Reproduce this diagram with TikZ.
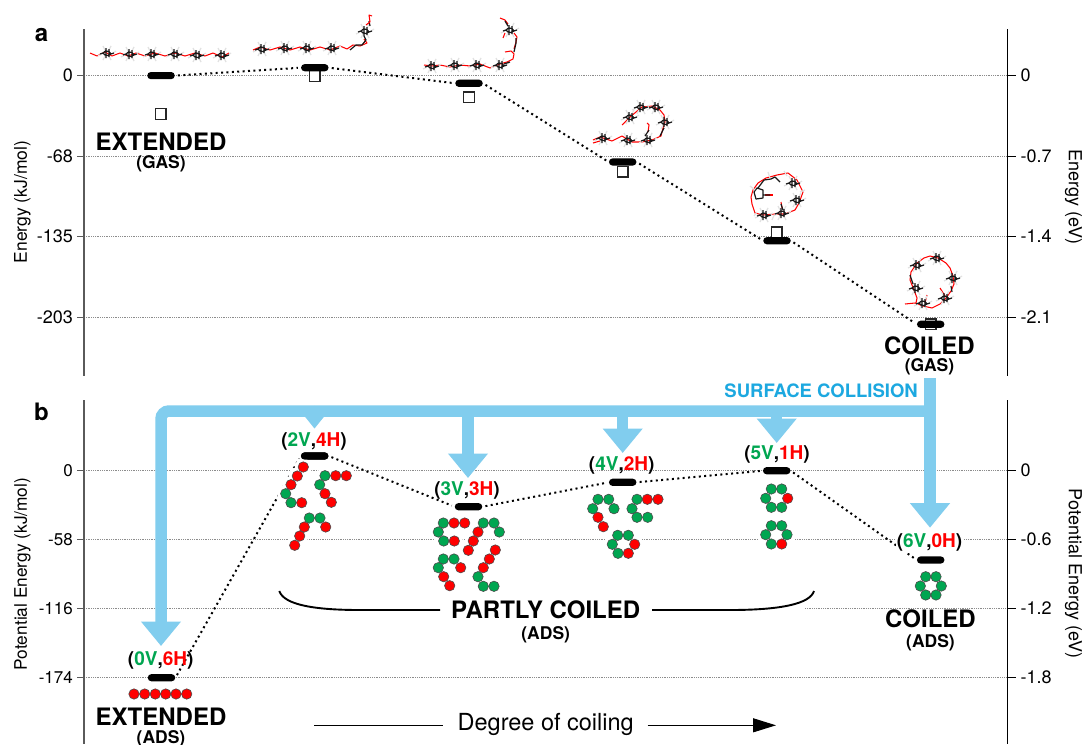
\documentclass[tikz,border=0pt]{standalone}
\usepackage{fontspec}
\setmainfont{TeX Gyre Heros}
\usetikzlibrary{shapes.misc,arrows.meta}
\definecolor{bandblue}{HTML}{81CDEE}
\definecolor{sctext}{HTML}{1CA8E0}
\definecolor{vgreen}{HTML}{00A651}
\definecolor{hred}{HTML}{FF0000}
\definecolor{axisgray}{HTML}{5A5A5A}
\definecolor{gridgray}{HTML}{8C8C8C}
\definecolor{hgray}{HTML}{E2E2E2}
\newcommand{\gv}[1]{\textcolor{vgreen}{#1}}
\newcommand{\rd}[1]{\textcolor{hred}{#1}}
\tikzset{
  gridline/.style={gridgray,line width=.6pt,dash pattern=on .8pt off 1pt},
  axisL/.style={axisgray,line width=1.4pt},
  axisR/.style={black,line width=1pt},
  tickL/.style={axisgray,line width=.9pt},
  tickR/.style={black,line width=.9pt},
  ticklabL/.style={anchor=east,inner sep=0pt,font=\fontsize{18}{20}\selectfont},
  ticklabLb/.style={anchor=east,inner sep=0pt,font=\fontsize{17}{19}\selectfont},
  ticklabR/.style={anchor=west,inner sep=0pt,font=\fontsize{18}{20}\selectfont},
  axtitle/.style={inner sep=0pt,font=\fontsize{17.5}{19}\selectfont},
  axtitleb/.style={inner sep=0pt,font=\fontsize{17.3}{19}\selectfont},
  axtitler/.style={inner sep=0pt,font=\fontsize{18}{20}\selectfont},
  level/.style={rounded rectangle,fill=black,inner sep=0pt,minimum width=27.5pt,minimum height=7.2pt},
  dots/.style={black,line width=2pt,dash pattern=on 2pt off 3.4pt,shorten <=3pt,shorten >=3pt},
  sq/.style={draw=black!85,line width=1.3pt,fill=white,minimum size=10.5pt,inner sep=0pt},
  bigtxt/.style={inner sep=0pt,font=\bfseries\fontsize{24}{26}\selectfont},
  subtxt/.style={inner sep=0pt,font=\bfseries\fontsize{17.5}{19}\selectfont},
  lvltxt/.style={inner sep=0pt,font=\bfseries\fontsize{19}{21}\selectfont},
  bandtip/.style={bandblue,line width=11.5pt,-{Triangle[length=24.5pt,width=38.5pt]}},
  bandtipshort/.style={bandblue,line width=1pt,-{Triangle[length=22.5pt,width=36pt]}},
  backbone/.style={hred,line width=1.05pt,line join=round},
  carbon/.style={black!90,line width=1.2pt,line join=round},
  hydro/.style={hgray,line width=1.2pt},
  beadR/.style={fill=hred,draw=black!70,line width=.6pt},
  beadG/.style={fill=vgreen,draw=black!70,line width=.6pt},
}
\newcommand{\rng}[2]{%
  \begin{scope}[shift={(#1,#2)}]
    \draw[hydro] (-4,-7)--(-2,-3) (4,-7)--(2,-3) (-4,7)--(-2,3) (4,7)--(2,3) (-9,3)--(-5,1) (9,-2)--(6,0);
    \draw[carbon] (-4,0)--(-1.5,-2)--(2,-1.5)--(4,1)--(1,2.5)--(-2,2)--cycle (-1,-5)--(-1,5) (2,-4)--(2,4) (-7,1)--(-4,0) (4,1)--(7,0);
  \end{scope}}
\newcommand{\hl}[2]{\fill[white] (#1,#2) circle (8.6);}
\newcommand{\br}[2]{\draw[beadR] (#1,#2) circle (5.2);}
\newcommand{\bg}[2]{\draw[beadG] (#1,#2) circle (5.2);}
\begin{document}
\begin{tikzpicture}[x=1pt,y=-1pt]
\useasboundingbox (0,0) rectangle (1083,744);
\fill[white] (0,0) rectangle (1083,744);
% grid lines
\foreach \yy in {75.6,156,236.6,317.2,470.5,539.5,677.5}{\draw[gridline] (84,\yy)--(1007.5,\yy);}
\draw[gridline] (84,608.5)--(292,608.5);
\draw[gridline] (805,608.5)--(1007.5,608.5);
% axes
\draw[axisL] (84,29)--(84,375.5);
\draw[axisL] (84,400)--(84,744);
\draw[axisR] (1007.5,29)--(1007.5,375.5);
\draw[axisR] (1007.5,400)--(1007.5,744);
\foreach \yy in {75.6,156,236.6,317.2,470.5,539.5,608.5,677.5}{
  \draw[tickL] (77,\yy)--(84,\yy);
  \draw[tickR] (1007.5,\yy)--(1016,\yy);}
\node[ticklabL] (la0) at (73,75.6) {0};
\node[ticklabL] (la1) at (73,156) {-68};
\node[ticklabL] (la2) at (73,236.6) {-135};
\node[ticklabL] (la3) at (73,317.2) {-203};
\node[ticklabR] (ra0) at (1020.5,75.6) {0};
\node[ticklabR] (ra1) at (1020.5,156) {-0.7};
\node[ticklabR] (ra2) at (1020.5,236.6) {-1.4};
\node[ticklabR] (ra3) at (1020.5,317.2) {-2.1};
\node[ticklabLb] (lb0) at (73,470.5) {0};
\node[ticklabLb] (lb1) at (73,539.5) {-58};
\node[ticklabLb] (lb2) at (73,608.5) {-116};
\node[ticklabLb] (lb3) at (73,677.5) {-174};
\node[ticklabR] (rb0) at (1020.5,470.5) {0};
\node[ticklabR] (rb1) at (1020.5,539.5) {-0.6};
\node[ticklabR] (rb2) at (1020.5,608.5) {-1.2};
\node[ticklabR] (rb3) at (1020.5,677.5) {-1.8};
\node[axtitle,rotate=90] (tla) at (22.5,202) {Energy (kJ/mol)};
\node[axtitler,rotate=-90] (tra) at (1073.5,197) {Energy (eV)};
\node[axtitleb,rotate=90] (tlb) at (22.5,574) {Potential Energy (kJ/mol)};
\node[axtitler,rotate=-90] (trb) at (1073.5,573.5) {Potential Energy (eV)};
\node[inner sep=0pt,font=\bfseries\fontsize{24}{26}\selectfont] (pa) at (41.5,35) {a};
\node[inner sep=0pt,font=\bfseries\fontsize{24}{26}\selectfont] (pb) at (41.5,412) {b};
% blue band
\coordinate (busE) at (930,411);
\coordinate (busTop) at (930,378);
\coordinate (busL) at (161,411);
\coordinate (tip0) at (161,646);
\coordinate (tip6) at (930,527.7);
\coordinate (b2) at (314.5,405.5);
\coordinate (t2) at (314.5,428.5);
\coordinate (b3) at (468,411);
\coordinate (t3) at (468,478);
\coordinate (b4) at (622.7,411);
\coordinate (t4) at (622.7,453);
\coordinate (b5) at (776.7,411);
\coordinate (t5) at (776.7,443);
\draw[bandtipshort] (b2)--(t2);
\draw[bandtip] (b3)--(t3);
\draw[bandtip] (b4)--(t4);
\draw[bandtip] (b5)--(t5);
\draw[bandtip] (busTop)--(tip6);
\draw[bandtip,rounded corners=8pt] (busE)--(busL)--(tip0);
\node[inner sep=0pt,anchor=east,text=sctext,font=\bfseries\fontsize{18.5}{20}\selectfont] (sc) at (918,391) {SURFACE COLLISION};
% squares
\node[sq] (s1) at (160.7,114) {};
\node[sq] (s2) at (314.7,76) {};
\node[sq] (s3) at (469,97.3) {};
\node[sq] (s4) at (622.7,171.7) {};
\node[sq] (s5) at (776.7,232.3) {};
\node[sq] (s6) at (930.7,324.3) {};
% levels, panel a
\node[level] (a1) at (161,75.6) {};
\node[level] (a2) at (314.8,67.7) {};
\node[level] (a3) at (469,83.3) {};
\node[level] (a4) at (622.7,162) {};
\node[level] (a5) at (777,240.7) {};
\node[level] (a6) at (930.7,324.3) {};
\draw[dots] (a1.east)--(a2.west);
\draw[dots] (a2.east)--(a3.west);
\draw[dots] (a3.east)--(a4.west);
\draw[dots] (a4.east)--(a5.west);
\draw[dots] (a5.east)--(a6.west);
% levels, panel b
\node[level] (c0) at (161.5,677.7) {};
\node[level] (c2) at (314.7,456) {};
\node[level] (c3) at (468.5,506.7) {};
\node[level] (c4) at (622.7,482.3) {};
\node[level] (c5) at (776.7,470.7) {};
\node[level] (c6) at (930.7,560) {};
\draw[dots] (c0.east)--(c2.west);
\draw[dots] (c2.east)--(c3.west);
\draw[dots] (c3.east)--(c4.west);
\draw[dots] (c4.east)--(c5.west);
\draw[dots] (c5.east)--(c6.west);
% bead halos
\foreach \x/\y in {303.3/467,297.3/476,291/484.7,285.7/493.7,291/502.7,301.7/502.7,325/475.7,335.7/475.7,346.3/475.7,319.7/484.7,325/493.7,331.3/502.3,309.3/518,320/518,304.3/527,325.7/527,299.7/536,294.7/545.3,
443.3/523,454/523,464.7/523,438.3/532,443.7/541,454.3/541,483.3/523,494/523,499.3/532,478/532,473.3/541,468.3/550.3,443.3/559,454/559,460.7/567.7,438.3/567.7,443.7/576.7,449.7/585.7,495.3/550,489.3/559,483.3/567.7,478/576.7,483.3/586.3,494/586.3,
598/499.3,608.7/499.3,614/508.7,592.7/508.7,598/517.3,603.3/526.7,637/499.3,647.3/499.3,658/499.3,632/508.7,637/517.3,647.7/517.3,617.7/535.3,628.3/535.3,634.7/544.3,612.3/544.3,618/553.3,628.3/553.3,
771.3/525.7,781.7/525.7,787/534.7,765.7/534.7,771.3/544,781.7/544}{\hl{\x}{\y}}
\node[level] (c2top) at (314.7,456) {};
% beads 2V,4H
\foreach \x/\y in {303.3/467,297.3/476,291/484.7,301.7/502.7,335.7/475.7,346.3/475.7,325/493.7,331.3/502.3,304.3/527,325.7/527,299.7/536,294.7/545.3}{\br{\x}{\y}}
\foreach \x/\y in {285.7/493.7,291/502.7,325/475.7,319.7/484.7,309.3/518,320/518}{\bg{\x}{\y}}
% beads 3V,3H
\foreach \x/\y in {454/523,464.7/523,454.3/541,478/532,473.3/541,468.3/550.3,460.7/567.7,443.7/576.7,449.7/585.7,495.3/550,489.3/559,483.3/567.7}{\br{\x}{\y}}
\foreach \x/\y in {443.3/523,438.3/532,443.7/541,483.3/523,494/523,499.3/532,443.3/559,454/559,438.3/567.7,478/576.7,483.3/586.3,494/586.3}{\bg{\x}{\y}}
% beads 4V,2H
\foreach \x/\y in {598/517.3,603.3/526.7,647.3/499.3,658/499.3,634.7/544.3,628.3/553.3}{\br{\x}{\y}}
\foreach \x/\y in {598/499.3,608.7/499.3,614/508.7,592.7/508.7,637/499.3,632/508.7,637/517.3,647.7/517.3,617.7/535.3,628.3/535.3,612.3/544.3,618/553.3}{\bg{\x}{\y}}
% beads 5V,1H
\foreach \x/\y in {787.7/498.3,781.7/544}{\br{\x}{\y}}
\foreach \x/\y in {771.3/489,781.7/489,765.7/498.3,771.3/507.3,781.7/507.3,771.3/525.7,781.7/525.7,787/534.7,765.7/534.7,771.3/544}{\bg{\x}{\y}}
% beads 6V
\foreach \x/\y in {925.7/576.7,936/576.7,941.3/586,920.3/586,925.7/595,936/595}{\bg{\x}{\y}}
% beads 0V
\foreach \x in {134,144.7,155.3,165.7,176,186.7}{\br{\x}{694}}
% level labels
\node[lvltxt] (l0) at (160.7,660.5) {(\gv{0V},\rd{6H})};
\node[lvltxt] (l2) at (314,441) {(\gv{2V},\rd{4H})};
\node[lvltxt] (l3) at (467,490.7) {(\gv{3V},\rd{3H})};
\node[lvltxt] (l4) at (621.7,465) {(\gv{4V},\rd{2H})};
\node[lvltxt] (l5) at (777,454) {(\gv{5V},\rd{1H})};
\node[lvltxt,fill=white,inner xsep=1pt,inner ysep=2pt] (l6) at (929.5,542.5) {(\gv{6V},\rd{0H})};
% titles
\node[bigtxt] (t1) at (161,141.5) {EXTENDED};
\node[subtxt] (t1b) at (161,163.5) {(GAS)};
\node[bigtxt] (t2a) at (929.5,345.5) {COILED};
\node[subtxt] (t2b) at (929.5,367) {(GAS)};
\node[bigtxt] (t3a) at (161,716.5) {EXTENDED};
\node[subtxt] (t3b) at (161,738.5) {(ADS)};
\node[bigtxt] (t4a) at (930.5,618.5) {COILED};
\node[subtxt] (t4b) at (930.5,642.5) {(ADS)};
\node[bigtxt] (t5a) at (545.7,610) {PARTLY COILED};
\node[subtxt] (t5b) at (545.7,634.5) {(ADS)};
% brace
\coordinate (brL) at (279.3,591);
\coordinate (brR) at (814,591);
\coordinate (brLe) at (440,610);
\coordinate (brRs) at (652,610);
\draw[black,line width=1.9pt] (brL) .. controls (284,605) and (315,610) .. (360,610)--(brLe);
\draw[black,line width=1.9pt] (brRs)--(730,610) .. controls (780,610) and (810,604) .. (brR);
% degree of coiling
\node[inner sep=0pt,font=\fontsize{23.5}{26}\selectfont] (deg) at (545.7,724) {Degree of coiling};
\coordinate (degA) at (314,725.3);
\coordinate (degB) at (776,725.3);
\coordinate (degC) at (443,725.3);
\coordinate (degD) at (647.7,725.3);
\draw[black,line width=1.1pt] (degA)--(degC);
\draw[black,line width=1.1pt,-{Triangle[length=23pt,width=14pt]}] (degD)--(degB);
% molecules
% 1: extended
\draw[backbone] (90,53)--(97,56)--(105,52)--(112,56)--(120,53)--(128,56)--(136,53)--(145,56)--(155,53)--(165,56)--(175,53)--(185,56)--(195,53)--(205,56)--(213,53)--(222,57)--(229,53);
\foreach \x/\y in {107/53,130/54,152/54,175/54,197/55,222/55}{\rng{\x}{\y}}
% 2
\draw[backbone] (253,50)--(260,47)--(270,50)--(280,47)--(290,50)--(300,47)--(310,50)--(320,47)--(330,50)--(340,46)--(347,49)--(353,45)--(360,46)--(367,43)--(364,39);
\foreach \x/\y in {262/49,285/48,307/48,332/48}{\rng{\x}{\y}}
\draw[carbon] (350,50)--(356,45)--(362,45)--(366,40)--(364,36);
\rng{365}{31}
\draw[carbon] (370,26)--(369,21);
\draw[backbone] (366,25)--(370,22)--(369,15)--(372,16);
% 3
\draw[backbone] (424,65)--(432,66)--(440,65)--(450,67)--(460,65)--(470,66)--(480,64)--(490,68)--(500,64)--(507,62)--(513,59)--(514,54)--(511,51)--(505,52);
\draw[backbone] (514,49)--(516,42)--(517,37)--(514,33);
\foreach \x/\y in {432/66,455/65,477/65,500/65}{\rng{\x}{\y}}
\draw[carbon] (504,64)--(510,62) (514,52)--(516,43)--(516,38);
\rng{510}{30}
\draw[backbone] (503,38)--(505,33) (508,24)--(505,20)--(500,18);
\draw[carbon] (508,26)--(505,21);
% 4
\draw[backbone] (593,140)--(600,137)--(612,141)--(622,136)--(632,142)--(642,142)--(652,140)--(661,136)--(663,128)--(665,122)--(664,115)--(660,110)--(652,106)--(642,107)--(636,112)--(630,117)--(625,122)--(622,125);
\draw[backbone] (593,143)--(600,141);
\draw[backbone] (648,132)--(649,125)--(647,123);
\foreach \x/\y in {603/138,628/140,648/140,665/122,656/107,641/107,630/117}{\rng{\x}{\y}}
\draw[carbon] (660,136)--(664,128) (645,136)--(649,130);
% 5
\draw[backbone] (751,197)--(753,190)--(758,183)--(766,178)--(777,175)--(788,173)--(797,180)--(803,192)--(799,203)--(795,210)--(785,214)--(775,214)--(763,215)--(755,213)--(752,204)--(751,197);
\draw[backbone] (765,195)--(773,195);
\draw[carbon] (754,192)--(757,188)--(763,190)--(763,198)--(756,199)--cycle (763,195)--(770,195) (758,188)--(764,180)--(771,179)--(775,177)--(780,182);
\draw[hydro] (750,186)--(755,190) (768,172)--(770,178) (784,171)--(787,176) (805,190)--(800,192) (754,216)--(757,212) (772,220)--(774,215);
\foreach \x/\y in {782/213,764/215,797/200,793/183}{\rng{\x}{\y}}
\draw[backbone] (781,202)--(782,208);
\draw[carbon] (781,204)--(783,210);
% 6
\draw[backbone] (905,304)--(915,303)--(923,306)--(932,308)--(940,304)--(946,298)--(951,291)--(954,284)--(953,276)--(950,268)--(946,263)--(938,258)--(930,256)--(924,258)--(917,263)--(911,272)--(910,280)--(914,290)--(917,298)--(916,303);
\draw[backbone] (927,295)--(925,303) (940,288)--(945,296);
\foreach \x/\y in {923/303,945/298,953/278,937/258,917/265,916/288}{\rng{\x}{\y}}
\draw[carbon] (910,275)--(913,284) (951,286)--(952,292);
\end{tikzpicture}
\end{document}
